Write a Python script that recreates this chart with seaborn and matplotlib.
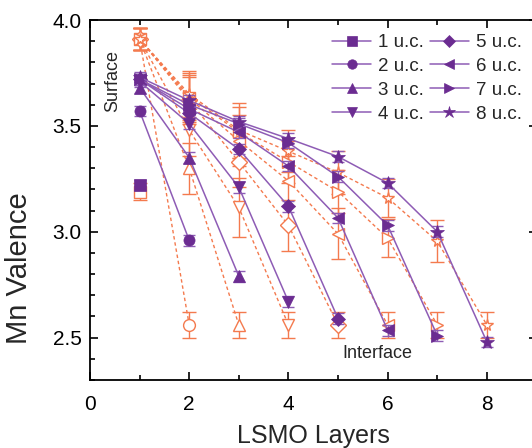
import seaborn as sns
import matplotlib.pyplot as plt
from matplotlib.ticker import MultipleLocator

# layer-resolved Mn valence for films of 1..8 unit cells
thickness = ["1 u.c.", "2 u.c.", "3 u.c.", "4 u.c.", "5 u.c.", "6 u.c.", "7 u.c.", "8 u.c."]
markers = ["s", "o", "^", "v", "D", "<", ">", "*"]

# measured (filled purple)
meas = [
    [3.22],
    [3.57, 2.96],
    [3.68, 3.35, 2.79],
    [3.71, 3.51, 3.21, 2.67],
    [3.72, 3.56, 3.39, 3.12, 2.59],
    [3.72, 3.58, 3.47, 3.31, 3.065, 2.535],
    [3.72, 3.60, 3.51, 3.42, 3.26, 3.03, 2.51],
    [3.73, 3.62, 3.52, 3.44, 3.355, 3.23, 3.00, 2.48],
]
meas_err = [[0.025] * len(v) for v in meas]

# model (open orange)
model = [
    [3.19],
    [3.91, 2.56],
    [3.91, 3.30, 2.56],
    [3.91, 3.48, 3.115, 2.56],
    [3.91, 3.62, 3.33, 3.03, 2.56],
    [3.91, 3.63, 3.43, 3.24, 2.99, 2.56],
    [3.91, 3.64, 3.47, 3.33, 3.19, 2.97, 2.56],
    [3.91, 3.65, 3.48, 3.38, 3.28, 3.16, 2.955, 2.56],
]
model_err = [
    [0.04],
    [0.05, 0.06],
    [0.05, 0.12, 0.06],
    [0.05, 0.12, 0.14, 0.06],
    [0.05, 0.11, 0.12, 0.12, 0.06],
    [0.05, 0.11, 0.12, 0.12, 0.12, 0.06],
    [0.05, 0.11, 0.12, 0.10, 0.10, 0.09, 0.06],
    [0.05, 0.11, 0.13, 0.10, 0.10, 0.09, 0.10, 0.06],
]

purple = "#6B2C91"
purple_line = "#8E5CB5"
orange = "#F47A4E"

sns.set_theme(style="ticks")
plt.rcParams["font.family"] = ["Liberation Sans", "DejaVu Sans"]

fig = plt.figure(figsize=(5.32, 4.48), dpi=100)
ax = fig.add_axes([90 / 532, 68 / 448, 446.5 / 532, 360 / 448])

# orange (dashed, open) first so purple sits on top
for vals, err, m in zip(model, model_err, markers):
    layers = list(range(1, len(vals) + 1))
    ax.errorbar(layers, vals, yerr=err, fmt="none", ecolor=orange,
                elinewidth=1, capsize=5, capthick=1, zorder=2)
    sns.lineplot(x=layers, y=vals, ax=ax, color=orange, linewidth=1,
                 linestyle=(0, (2.5, 2)), marker=m, markersize=8.5,
                 markerfacecolor="white", markeredgecolor=orange,
                 markeredgewidth=1, zorder=3, label="_nolegend_")

for vals, err, m, lab in zip(meas, meas_err, markers, thickness):
    layers = list(range(1, len(vals) + 1))
    ax.errorbar(layers, vals, yerr=err, fmt="none", ecolor=purple_line,
                elinewidth=1, capsize=4, capthick=1, zorder=4)
    ms = 10.5 if m == "*" else (7 if m == "D" else 8)
    sns.lineplot(x=layers, y=vals, ax=ax, color=purple_line, linewidth=1.1,
                 marker=m, markersize=ms, markerfacecolor=purple,
                 markeredgecolor=purple, markeredgewidth=0.5, zorder=5,
                 label=lab)

ax.set_xlim(0, 9)
ax.set_ylim(2.3, 4.0)
ax.xaxis.set_major_locator(MultipleLocator(2))
ax.xaxis.set_minor_locator(MultipleLocator(1))
ax.yaxis.set_major_locator(MultipleLocator(0.5))
ax.yaxis.set_minor_locator(MultipleLocator(0.1))
ax.yaxis.set_major_formatter(plt.FormatStrFormatter("%.1f"))
ax.tick_params(which="both", direction="in", top=True, right=True,
               width=1.2, colors="black", labelsize=15)
ax.tick_params(which="major", length=6)
ax.tick_params(which="minor", length=3.5)
ax.tick_params(axis="x", pad=11)
ax.tick_params(axis="y", pad=6)
for s in ax.spines.values():
    s.set_linewidth(1.3)
    s.set_color("black")

ax.set_xlabel("LSMO Layers", fontsize=18, labelpad=7)
ax.set_ylabel("Mn Valence", fontsize=21)
ax.yaxis.set_label_coords(-0.128, 0.31)

ax.text(0.46, 3.71, "Surface", rotation=90, fontsize=13,
        ha="center", va="center")
ax.text(5.79, 2.425, "Interface", fontsize=13, ha="center", va="center")

ax.legend(loc="upper left", bbox_to_anchor=(332 / 532, 1 - 34 / 448),
          bbox_transform=fig.transFigure, ncol=2, frameon=False,
          fontsize=13.5, borderpad=0, borderaxespad=0, handlelength=2.1,
          handletextpad=0.36, columnspacing=0.3, labelspacing=0.36,
          markerscale=0.85, numpoints=1)

fig.savefig("out.png", dpi=100)
